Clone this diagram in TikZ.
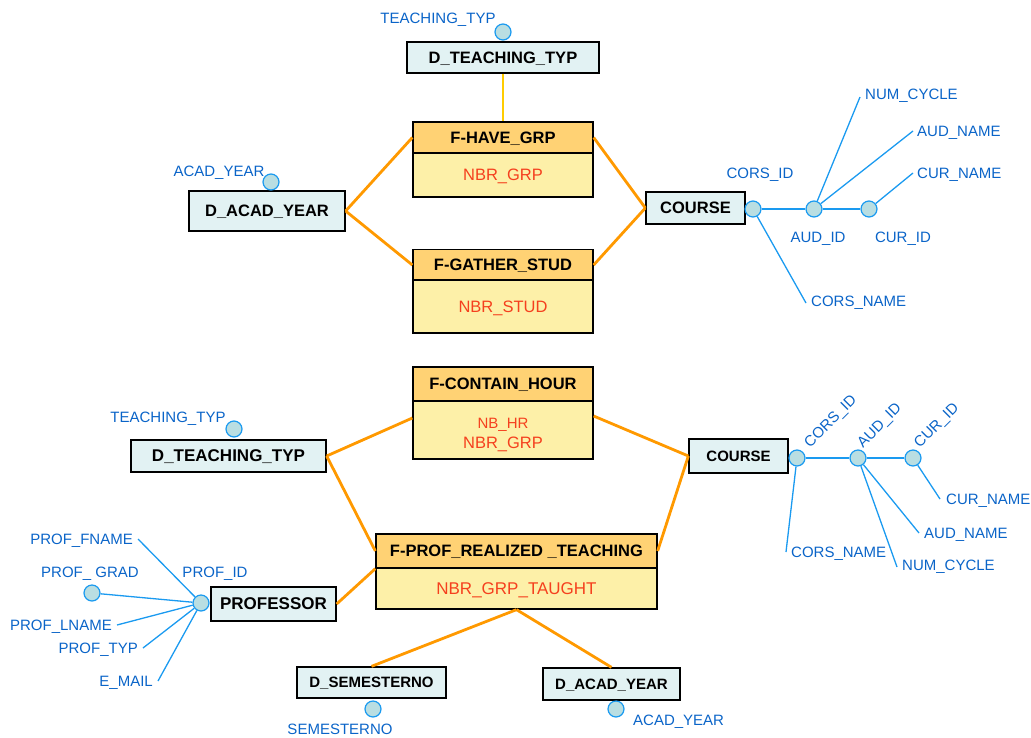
\documentclass[tikz,border=0pt]{standalone}
\usepackage{fontspec}
\setmainfont{Liberation Sans}
\definecolor{dimfill}{HTML}{E2F2F3}
\definecolor{headfill}{HTML}{FFD274}
\definecolor{bodyfill}{HTML}{FDF0A8}
\definecolor{conorange}{HTML}{FF9900}
\definecolor{congold}{HTML}{FFCC00}
\definecolor{lblue}{HTML}{0A64C8}
\definecolor{attrred}{HTML}{F5401E}
\definecolor{circfill}{HTML}{B9DEE2}
\definecolor{circline}{HTML}{1A9AF0}
\tikzset{
  dimbox/.style={rectangle, draw=black, line width=1.3pt, fill=dimfill, inner sep=0pt, text depth=0pt,
    font=\fontsize{16.5}{18}\selectfont\bfseries},
  dimsmall/.style={dimbox, font=\fontsize{15}{17}\selectfont\bfseries},
  fhead/.style={rectangle, draw=black, line width=1.3pt, fill=headfill, inner sep=0pt, text depth=0pt,
    font=\fontsize{16.5}{18}\selectfont\bfseries},
  fbody/.style={rectangle, draw=black, line width=1.3pt, fill=bodyfill, inner sep=0pt, text depth=0pt,
    text=attrred, font=\fontsize{16.5}{19}\selectfont},
  attr/.style={circle, draw=circline, fill=circfill, line width=1.2pt, minimum size=16pt, inner sep=0pt},
  lbl/.style={text=lblue, font=\fontsize{15}{17}\selectfont, inner sep=1pt, text depth=0pt},
  redtxt/.style={text=attrred, inner sep=0pt, text depth=0pt},
  conn/.style={draw=conorange, line width=2.8pt},
  goldconn/.style={draw=congold, line width=2.8pt},
  aline/.style={draw=circline, line width=1.3pt},
}
\begin{document}
\begin{tikzpicture}[x=1pt,y=-1pt]
\useasboundingbox (0,0) rectangle (1031,737);

% ---------- TOP SECTION ----------
\node[dimbox, minimum width=192pt, minimum height=31pt] (dt1) at (503,57.5) {D\_TEACHING\_TYP};
\node[attr] (tt1) at (503,32) {};
\node[lbl] (tt1l) at (438,18) {TEACHING\_TYP};

\node[fhead, minimum width=180pt, minimum height=31pt] (fh1) at (503,137.5) {F-HAVE\_GRP};
\node[fbody, minimum width=180pt, minimum height=44pt] (fb1) at (503,175) {NBR\_GRP};

\node[fhead, minimum width=180pt, minimum height=31pt] (fg1) at (503,265) {F-GATHER\_STUD};
\node[fbody, minimum width=180pt, minimum height=53pt] (fgb1) at (503,306.5) {NBR\_STUD};

\node[dimbox, minimum width=156pt, minimum height=40pt] (da1) at (267,211) {D\_ACAD\_YEAR};
\node[attr] (ay1) at (271,182) {};
\node[lbl] (ay1l) at (219,171) {ACAD\_YEAR};

\node[dimbox, minimum width=99pt, minimum height=32pt] (co1) at (695.5,208) {COURSE};
\node[attr] (c1) at (753,209) {};
\node[attr] (a1) at (814,209) {};
\node[attr] (u1) at (869,209) {};
\node[lbl] (c1l) at (760,173) {CORS\_ID};
\node[lbl] (a1l) at (818,237) {AUD\_ID};
\node[lbl] (u1l) at (903,237) {CUR\_ID};
\node[lbl, anchor=west] (ncy1) at (864,94) {NUM\_CYCLE};
\node[lbl, anchor=west] (audn1) at (916,131) {AUD\_NAME};
\node[lbl, anchor=west] (curn1) at (916,173) {CUR\_NAME};
\node[lbl, anchor=west] (corsn1) at (810,301) {CORS\_NAME};

\draw[goldconn] (dt1.south) -- (fh1.north);
\draw[conn] (da1.east) -- (fh1.west);
\draw[conn] (da1.east) -- (fg1.west);
\draw[conn] (fh1.east) -- (co1.west);
\draw[conn] (fg1.east) -- (co1.west);

\draw[aline] (c1) -- (a1);
\draw[aline] (a1) -- (u1);
\draw[aline] (a1) -- ([xshift=-4pt,yshift=-3pt]ncy1.west);
\draw[aline] (a1) -- ([xshift=-3pt]audn1.west);
\draw[aline] (u1) -- ([xshift=-3pt]curn1.west);
\draw[aline] (c1) -- ([xshift=-4pt,yshift=-2pt]corsn1.west);

% ---------- BOTTOM SECTION ----------
\node[fhead, minimum width=180pt, minimum height=34pt] (fch) at (503,384) {F-CONTAIN\_HOUR};
\node[fbody, minimum width=180pt, minimum height=58pt] (fcb) at (503,430) {};
\node[redtxt, font=\fontsize{15}{17}\selectfont] (nbhr) at (503,423) {NB\_HR};
\node[redtxt, font=\fontsize{16.5}{19}\selectfont] (nbgrp) at (503,443) {NBR\_GRP};

\node[dimbox, font=\fontsize{17}{19}\selectfont\bfseries, minimum width=195pt, minimum height=32pt] (dt2) at (228.5,456) {D\_TEACHING\_TYP};
\node[attr] (tt2) at (234,429) {};
\node[lbl] (tt2l) at (168,417) {TEACHING\_TYP};

\node[fhead, minimum width=281pt, minimum height=34pt] (fph) at (516.5,551) {F-PROF\_REALIZED \_TEACHING};
\node[fbody, font=\fontsize{17}{19}\selectfont, minimum width=281pt, minimum height=41pt] (fpb) at (516.5,588.5) {NBR\_GRP\_TAUGHT};

\node[dimsmall, minimum width=99pt, minimum height=34pt] (co2) at (738.5,456) {COURSE};
\node[attr] (c2) at (797,458) {};
\node[attr] (a2) at (858,458) {};
\node[attr] (u2) at (913,458) {};
\node[lbl, rotate=45] (c2l) at (830,421) {CORS\_ID};
\node[lbl, rotate=45] (a2l) at (879,425) {AUD\_ID};
\node[lbl, rotate=45] (u2l) at (936,425) {CUR\_ID};
\node[lbl, anchor=west] (curn2) at (945,499) {CUR\_NAME};
\node[lbl, anchor=west] (audn2) at (923,533) {AUD\_NAME};
\node[lbl, anchor=west] (ncy2) at (901,565) {NUM\_CYCLE};
\node[lbl, anchor=west] (corsn2) at (790,552) {CORS\_NAME};

\draw[aline] (c2) -- (a2);
\draw[aline] (a2) -- (u2);
\draw[aline] (u2) -- ([xshift=-5pt]curn2.west);
\draw[aline] (a2) -- ([xshift=-4pt]audn2.west);
\draw[aline] (a2) -- ([xshift=-4pt,yshift=-2pt]ncy2.west);
\draw[aline] (c2) -- ([xshift=-4pt]corsn2.west);

\node[dimbox, font=\fontsize{17}{19}\selectfont\bfseries, minimum width=125pt, minimum height=34pt] (prof) at (273.5,604) {PROFESSOR};
\node[attr] (pid) at (201,603) {};
\node[lbl] (pidl) at (215,572) {PROF\_ID};
\node[lbl, anchor=east] (pfn) at (134,539) {PROF\_FNAME};
\node[attr] (pg) at (92,593) {};
\node[lbl] (pgl) at (90,572) {PROF\_ GRAD};
\node[lbl, anchor=east] (pln) at (113,625) {PROF\_LNAME};
\node[lbl, anchor=east] (pty) at (139,648) {PROF\_TYP};
\node[lbl, anchor=east] (pem) at (154,681) {E\_MAIL};

\draw[aline] ([xshift=4pt]pfn.east) -- (pid);
\draw[aline] (pg) -- (pid);
\draw[aline] ([xshift=4pt]pln.east) -- (pid);
\draw[aline] ([xshift=4pt]pty.east) -- (pid);
\draw[aline] ([xshift=4pt]pem.east) -- (pid);

\node[dimsmall, minimum width=149pt, minimum height=31pt] (dsem) at (371.5,682.5) {D\_SEMESTERNO};
\node[attr] (sem) at (373,709) {};
\node[lbl] (seml) at (340,729) {SEMESTERNO};
\node[dimsmall, minimum width=137pt, minimum height=32pt] (da2) at (611.5,684) {D\_ACAD\_YEAR};
\node[attr] (ay2) at (616,709) {};
\node[lbl, anchor=west] (ay2l) at (632,720) {ACAD\_YEAR};

\draw[conn] (dt2.east) -- ([yshift=12pt]fcb.west);
\draw[conn] (dt2.east) -- (fph.west);
\draw[conn] (co2.west) -- ([yshift=14pt]fcb.east);
\draw[conn] (co2.west) -- (fph.east);
\draw[conn] (prof.east) -- (fph.south west);
\draw[conn] (fpb.south) -- (dsem.north);
\draw[conn] (fpb.south) -- (da2.north);
\end{tikzpicture}
\end{document}
